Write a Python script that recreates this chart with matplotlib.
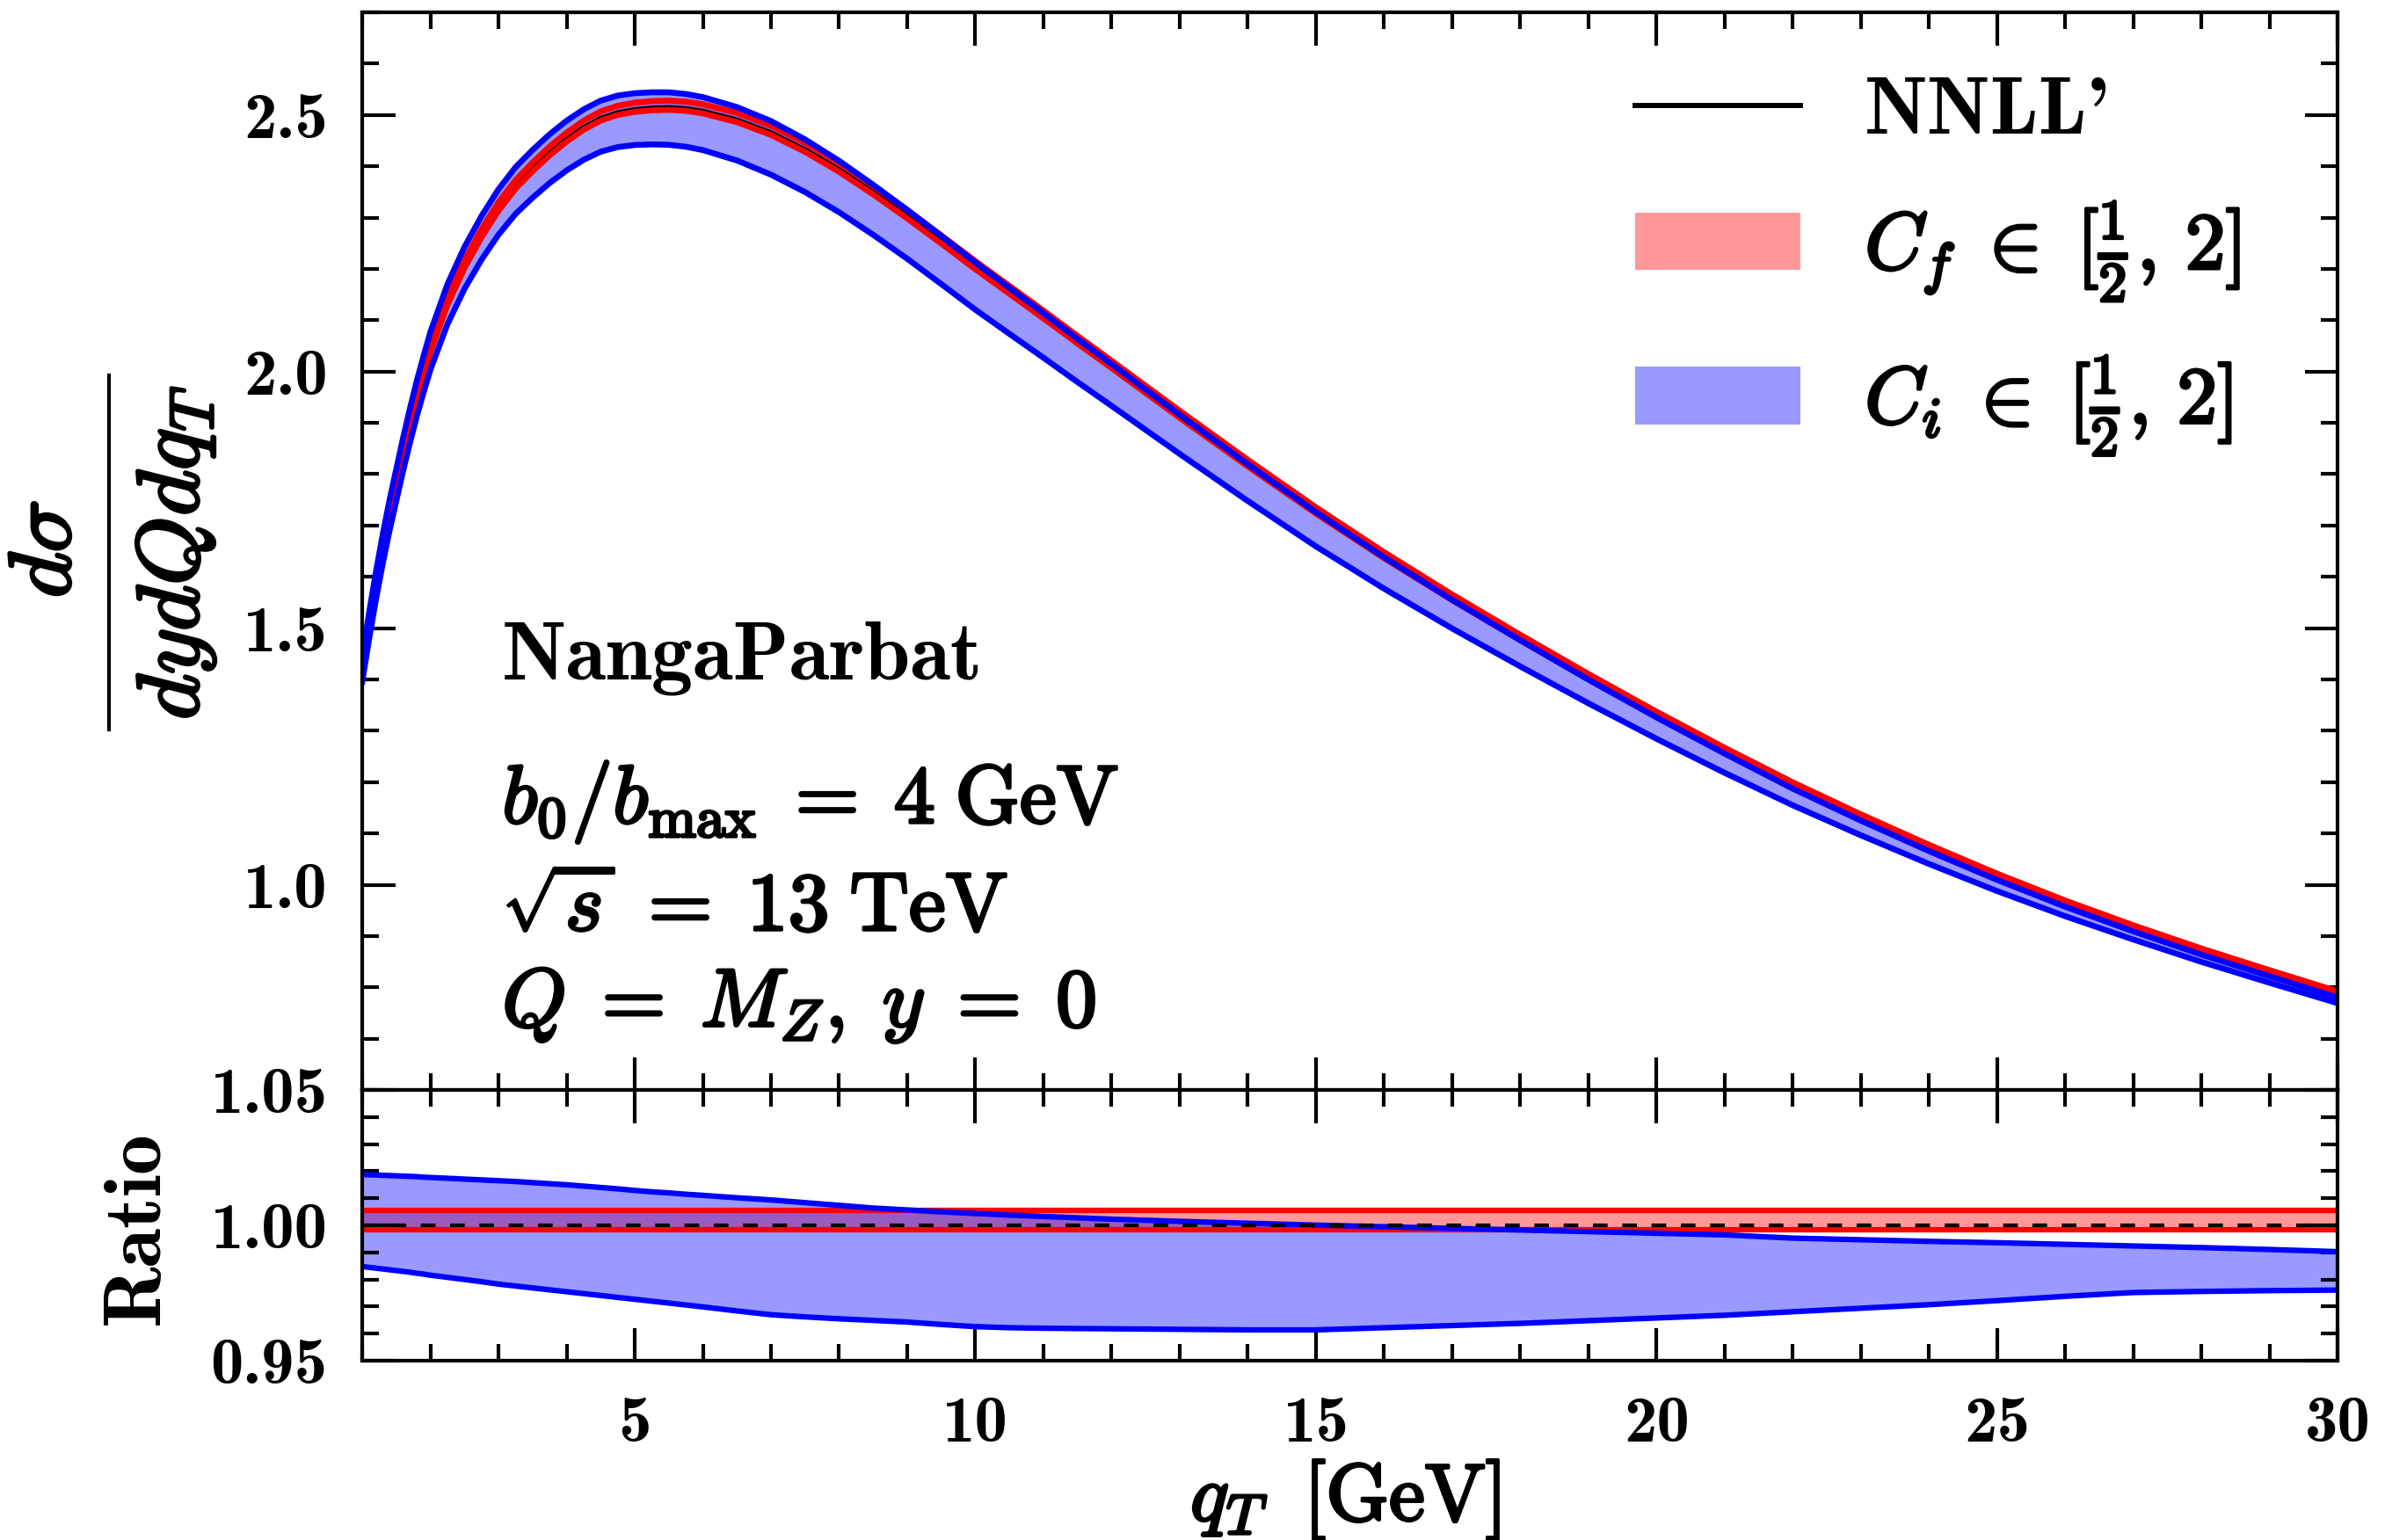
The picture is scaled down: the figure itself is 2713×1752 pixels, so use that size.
import numpy as np
import matplotlib
matplotlib.use('Agg')
import matplotlib.pyplot as plt
import matplotlib.patheffects as pe
from matplotlib.ticker import MultipleLocator, FormatStrFormatter
from matplotlib.patches import Patch
from matplotlib.lines import Line2D

plt.rcParams['font.family'] = 'cmb10'
plt.rcParams['mathtext.fontset'] = 'cm'
plt.rcParams['axes.unicode_minus'] = False

# values
qT = [1.0, 1.1, 1.2, 1.3, 1.4, 1.5, 1.6, 1.7, 1.8, 1.9, 2.0,
      2.25, 2.5, 2.75, 3.0, 3.25, 3.5, 3.75, 4.0, 4.25, 4.5, 4.75, 5.0, 5.25, 5.5, 5.75, 6.0,
      6.5, 7.0, 7.5, 8.0, 8.5, 9.0, 9.5, 10.0, 10.5, 11.0, 11.5, 12.0,
      13, 14, 15, 16, 17, 18, 19, 20, 21, 22, 23, 24, 25, 26, 27, 28, 29, 30]
nnll = [1.417, 1.502, 1.580, 1.652, 1.718, 1.778, 1.838, 1.894, 1.947, 1.995, 2.041,
        2.133, 2.205, 2.265, 2.317, 2.360, 2.394, 2.425, 2.452, 2.475, 2.493, 2.504, 2.510, 2.513, 2.514, 2.512, 2.507,
        2.490, 2.465, 2.432, 2.393, 2.349, 2.302, 2.253, 2.203, 2.155, 2.107, 2.058, 2.010,
        1.913, 1.818, 1.726, 1.639, 1.557, 1.479, 1.403, 1.330, 1.260, 1.193, 1.131, 1.072, 1.016,
        0.964, 0.916, 0.871, 0.829, 0.788]
# ratio to NNLL' of the C_i variation band
ci_hi = [1.0188, 1.0187, 1.0186, 1.0185, 1.0184, 1.0183, 1.0182, 1.0181, 1.0180, 1.0178, 1.0177,
         1.0174, 1.0171, 1.0168, 1.0165, 1.0162, 1.0158, 1.0154, 1.0150, 1.0145, 1.0140, 1.0135, 1.0129,
         1.0124, 1.0120, 1.0115, 1.0111,
         1.0102, 1.0094, 1.0084, 1.0074, 1.0064, 1.0057, 1.0050, 1.0044, 1.0038, 1.0033, 1.0028, 1.0023,
         1.0015, 1.0008, 1.0001, 0.9995, 0.9989, 0.9983, 0.9977, 0.9971, 0.9965, 0.9953, 0.9947, 0.9941,
         0.9936, 0.9930, 0.9924, 0.9918, 0.9911, 0.9903]
ci_lo = [0.9848, 0.9845, 0.9842, 0.9839, 0.9836, 0.9833, 0.9830, 0.9827, 0.9823, 0.9820, 0.9816,
         0.9808, 0.9800, 0.9792, 0.9783, 0.9776, 0.9769, 0.9762, 0.9755, 0.9748, 0.9741, 0.9734, 0.9727,
         0.9720, 0.9713, 0.9706, 0.9699,
         0.9684, 0.9670, 0.9662, 0.9655, 0.9649, 0.9643, 0.9634, 0.9626, 0.9622, 0.9620, 0.9619, 0.9618,
         0.9616, 0.9614, 0.9614, 0.9622, 0.9630, 0.9638, 0.9648, 0.9658, 0.9668, 0.9681, 0.9694, 0.9707,
         0.9722, 0.9738, 0.9752, 0.9756, 0.9759, 0.9761]
# ratio of the C_f band (flat)
cf_hi = 1.0056
cf_lo = 0.9984

q = np.array(qT)
c = np.array(nnll)
rhi = np.array(ci_hi)
rlo = np.array(ci_lo)

bold = [pe.withStroke(linewidth=0.8, foreground='k')]

W, H = 2713, 1752
fig = plt.figure(figsize=(W / 300, H / 300), dpi=300)
ax1 = fig.add_axes([0.1519, 0.2922, 0.8282, 0.6998])
ax2 = fig.add_axes([0.1519, 0.1164, 0.8282, 0.1758], sharex=ax1)

# main panel
ax1.fill_between(q, c * cf_lo, c * cf_hi, color='red', alpha=0.4, lw=0)
ax1.fill_between(q, c * rlo, c * rhi, color='blue', alpha=0.4, lw=0)
ax1.plot(q, c, color='k', lw=1.4)
ax1.plot(q, c * cf_hi, color='red', lw=1.6)
ax1.plot(q, c * cf_lo, color='red', lw=1.6)
ax1.plot(q, c * rhi, color='blue', lw=1.6)
ax1.plot(q, c * rlo, color='blue', lw=1.6)

# ratio panel
ax2.fill_between(q, cf_lo, cf_hi, color='red', alpha=0.4, lw=0)
ax2.fill_between(q, rlo, rhi, color='blue', alpha=0.4, lw=0)
ax2.axhline(cf_hi, color='red', lw=1.5)
ax2.axhline(cf_lo, color='red', lw=1.5)
ax2.plot(q, rhi, color='blue', lw=1.5)
ax2.plot(q, rlo, color='blue', lw=1.5)
ax2.axhline(1.0, color='k', lw=1.0, ls=(0, (4, 4)))

ax1.set_xlim(1, 30)
ax1.set_ylim(0.6, 2.7)
ax2.set_ylim(0.95, 1.05)

ax1.xaxis.set_major_locator(MultipleLocator(5))
ax1.xaxis.set_minor_locator(MultipleLocator(1))
ax1.yaxis.set_major_locator(MultipleLocator(0.5))
ax1.yaxis.set_minor_locator(MultipleLocator(0.1))
ax1.yaxis.set_major_formatter(FormatStrFormatter('%.1f'))
ax2.yaxis.set_major_locator(MultipleLocator(0.05))
ax2.yaxis.set_minor_locator(MultipleLocator(0.01))
ax2.yaxis.set_major_formatter(FormatStrFormatter('%.2f'))

for ax in (ax1, ax2):
    ax.tick_params(which='both', direction='in', top=True, right=True, width=1.0, labelsize=18, pad=9.5)
    ax.tick_params(which='major', length=9)
    ax.tick_params(which='minor', length=4.5)
    for sp in ax.spines.values():
        sp.set_linewidth(1.0)
ax1.tick_params(labelbottom=False)

# y title of the main panel, built as a display-style fraction
fig.text(80 / W, 1 - 625 / H, r'$d\sigma$', rotation=90, rotation_mode='anchor',
         ha='center', va='baseline', fontsize=24, path_effects=bold)
fig.text(153 / W, 1 - 629 / H, r'$dydQdq_T$', rotation=90, rotation_mode='anchor',
         ha='center', va='top', fontsize=24, path_effects=bold)
fig.add_artist(Line2D([124 / W, 124 / W], [1 - 427 / H, 1 - 830 / H],
                      transform=fig.transFigure, color='k', lw=1.0))

fig.text(0.0577, 0.203, 'Ratio', rotation=90, ha='center', va='center', fontsize=22)
fig.text(0.564, 0.026, r'$q_T\;\;[\mathrm{GeV}]$', ha='center', va='center', fontsize=22,
         path_effects=bold)

# annotations
ax1.text(0.0708, 0.381, 'NangaParbat', transform=ax1.transAxes, fontsize=22.5, va='baseline')
ax1.text(0.0708, 0.248, r'$b_0/b_{\max}\;=\;4\;\mathrm{GeV}$', transform=ax1.transAxes,
         fontsize=22.5, va='baseline', path_effects=bold)
ax1.text(0.0708, 0.148, r'$\sqrt{s}\;=\;13\;\mathrm{TeV}$', transform=ax1.transAxes,
         fontsize=22.5, va='baseline', path_effects=bold)
ax1.text(0.0708, 0.059, r'$Q\;=\;M_Z,\;y\;=\;0$', transform=ax1.transAxes,
         fontsize=22.5, va='baseline', path_effects=bold)

handles = [Line2D([], [], color='k', lw=1.4),
           Patch(facecolor='red', alpha=0.4, edgecolor='none'),
           Patch(facecolor='blue', alpha=0.4, edgecolor='none')]
labels = ["NNLL'", r'$C_f\;\in\;[\frac{1}{2},\,2]$', r'$C_i\;\in\;[\frac{1}{2},\,2]$']
leg = ax1.legend(handles, labels, loc='upper left', bbox_to_anchor=(0.6444, 0.94), frameon=False,
                 fontsize=22, handlelength=2.05, handleheight=0.72, handletextpad=0.8,
                 labelspacing=0.62, borderpad=0, borderaxespad=0)
for t in leg.get_texts()[1:]:
    t.set_path_effects(bold)

fig.savefig('out.png', dpi=300)
